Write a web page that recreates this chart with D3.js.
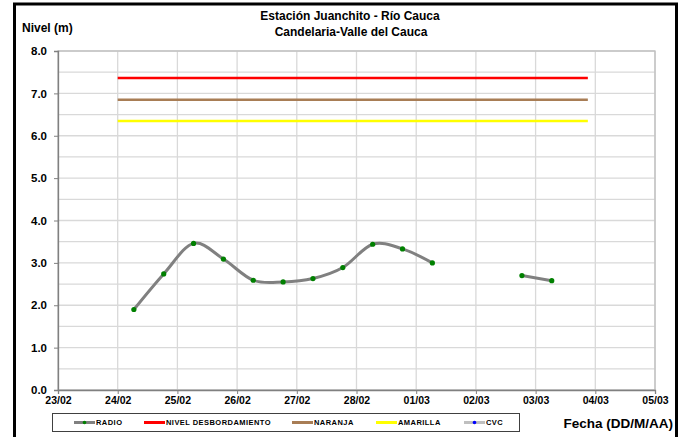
<!DOCTYPE html>
<html>
<head>
<meta charset="utf-8">
<script src="https://cdn.jsdelivr.net/npm/d3@7"></script>
<style>
  body { margin: 0; background: #fff; }
  svg { display: block; font-family: "Liberation Sans", Arial, sans-serif; }
  .grid line { stroke: #d9d9d9; stroke-width: 1.3; }
  .axis text { font-weight: bold; fill: #000; }
  .axis path, .axis line { stroke: #808080; }
</style>
</head>
<body>
<div id="chart"></div>
<script>
// datos
var radioFechas = [
  '2023-02-24T06:30', '2023-02-24T18:30', '2023-02-25T06:30', '2023-02-25T18:30',
  '2023-02-26T06:30', '2023-02-26T18:30', '2023-02-27T06:30', '2023-02-27T18:30',
  '2023-02-28T06:30', '2023-02-28T18:30', '2023-03-01T06:30', '2023-03-01T18:30',
  '2023-03-02T06:30', '2023-03-02T18:30', '2023-03-03T06:30'
];
var radioNivel = [1.90, 2.74, 3.46, 3.09, 2.59, 2.55, 2.63, 2.89, 3.44, 3.33, 3.00, null, null, 2.70, 2.58];

var umbralInicio = '2023-02-24T00:00';
var umbralFin = '2023-03-03T21:00';
var umbrales = [
  { nombre: 'NIVEL DESBORDAMIENTO', valor: 7.36, color: '#ff0000' },
  { nombre: 'NARANJA', valor: 6.85, color: '#a87d55' },
  { nombre: 'AMARILLA', valor: 6.35, color: '#ffff00' }
];

var yTicks = [0, 1, 2, 3, 4, 5, 6, 7, 8];
var yMinor = [0.5, 1.5, 2.5, 3.5, 4.5, 5.5, 6.5, 7.5];
var xInicio = '2023-02-23T00:00', xFin = '2023-03-05T00:00';

var vWidth = 686,
  vHeight = 437,
  margin = { top: 51, right: 31, bottom: 47, left: 58 },
  width = vWidth - margin.left - margin.right,
  height = vHeight - margin.top - margin.bottom;

var parse = d3.utcParse('%Y-%m-%dT%H:%M');

var svg = d3
  .select('#chart')
  .append('svg')
  .attr('width', vWidth)
  .attr('height', vHeight);

// marco negro
svg.append('rect')
  .attr('x', 14.5)
  .attr('y', 4)
  .attr('width', 662)
  .attr('height', 440)
  .attr('fill', 'none')
  .attr('stroke', '#000')
  .attr('stroke-width', 3);

var g = svg
  .append('g')
  .attr('transform', 'translate(' + margin.left + ',' + margin.top + ')');

var x = d3.scaleUtc()
  .domain([parse(xInicio), parse(xFin)])
  .range([0, width]);

var y = d3.scaleLinear().domain([0, 8]).range([height, 0]);

// rejilla
var dias = d3.utcDay.range(parse(xInicio), d3.utcDay.offset(parse(xFin), 1));

g.append('g')
  .attr('class', 'grid')
  .selectAll('line.h')
  .data(yTicks.concat(yMinor))
  .enter()
  .append('line')
  .attr('x1', 0)
  .attr('x2', width)
  .attr('y1', function(d) { return y(d); })
  .attr('y2', function(d) { return y(d); });

g.append('g')
  .attr('class', 'grid')
  .selectAll('line.v')
  .data(dias)
  .enter()
  .append('line')
  .attr('x1', function(d) { return x(d); })
  .attr('x2', function(d) { return x(d); })
  .attr('y1', 0)
  .attr('y2', height);

g.append('rect')
  .attr('width', width)
  .attr('height', height)
  .attr('fill', 'none')
  .attr('stroke', '#bfbfbf')
  .attr('stroke-width', 1.3);

// ejes
g.append('g')
  .attr('class', 'axis')
  .attr('transform', 'translate(0,' + height + ')')
  .call(
    d3.axisBottom(x)
      .tickValues(dias)
      .tickFormat(d3.utcFormat('%d/%m'))
      .tickSize(4)
      .tickPadding(3)
  )
  .style('font-size', '10.5px');

g.append('g')
  .attr('class', 'axis')
  .call(
    d3.axisLeft(y)
      .tickValues(yTicks)
      .tickFormat(d3.format('.1f'))
      .tickSize(4)
      .tickPadding(7)
  )
  .style('font-size', '11.5px');

g.selectAll('.axis .domain').attr('stroke', '#808080').attr('stroke-width', 1.3);

// umbrales
g.selectAll('.umbral')
  .data(umbrales)
  .enter()
  .append('line')
  .attr('class', 'umbral')
  .attr('x1', x(parse(umbralInicio)))
  .attr('x2', x(parse(umbralFin)))
  .attr('y1', function(d) { return y(d.valor); })
  .attr('y2', function(d) { return y(d.valor); })
  .attr('stroke', function(d) { return d.color; })
  .attr('stroke-width', 2.5);

// serie RADIO
var radio = radioFechas.map(function(f, i) {
  return { fecha: parse(f), nivel: radioNivel[i] };
});

var linea = d3.line()
  .defined(function(d) { return d.nivel !== null; })
  .x(function(d) { return x(d.fecha); })
  .y(function(d) { return y(d.nivel); })
  .curve(d3.curveCardinal.tension(0));

g.append('path')
  .datum(radio)
  .attr('d', linea)
  .attr('fill', 'none')
  .attr('stroke', '#808080')
  .attr('stroke-width', 3);

g.selectAll('.punto')
  .data(radio.filter(function(d) { return d.nivel !== null; }))
  .enter()
  .append('circle')
  .attr('class', 'punto')
  .attr('cx', function(d) { return x(d.fecha); })
  .attr('cy', function(d) { return y(d.nivel); })
  .attr('r', 2.6)
  .attr('fill', '#008000');

// titulos
svg.append('text')
  .attr('x', 350)
  .attr('y', 20)
  .attr('text-anchor', 'middle')
  .style('font-weight', 'bold')
  .style('font-size', '12px')
  .text('Estación Juanchito - Río Cauca');

svg.append('text')
  .attr('x', 351)
  .attr('y', 36)
  .attr('text-anchor', 'middle')
  .style('font-weight', 'bold')
  .style('font-size', '12px')
  .text('Candelaria-Valle del Cauca');

svg.append('text')
  .attr('x', 22)
  .attr('y', 32)
  .style('font-weight', 'bold')
  .style('font-size', '12px')
  .text('Nivel (m)');

svg.append('text')
  .attr('x', 673)
  .attr('y', 428)
  .attr('text-anchor', 'end')
  .style('font-weight', 'bold')
  .style('font-size', '13.5px')
  .text('Fecha (DD/M/AA)');

// leyenda
var leyenda = [
  { nombre: 'RADIO', color: '#808080', punto: '#008000', x: 74 },
  { nombre: umbrales[0].nombre, color: umbrales[0].color, punto: null, x: 144 },
  { nombre: umbrales[1].nombre, color: umbrales[1].color, punto: null, x: 292 },
  { nombre: umbrales[2].nombre, color: umbrales[2].color, punto: null, x: 376 },
  { nombre: 'CVC', color: '#bfbfbf', punto: '#0000ff', x: 464 }
];

svg.append('rect')
  .attr('x', 52.5)
  .attr('y', 413.5)
  .attr('width', 467)
  .attr('height', 18)
  .attr('fill', '#fff')
  .attr('stroke', '#404040')
  .attr('stroke-width', 1);

var item = svg.selectAll('.ley')
  .data(leyenda)
  .enter()
  .append('g')
  .attr('class', 'ley')
  .attr('transform', function(d) { return 'translate(' + d.x + ',422.5)'; });

item.append('line')
  .attr('x1', 0)
  .attr('x2', 21)
  .attr('stroke', function(d) { return d.color; })
  .attr('stroke-width', 3);

item.filter(function(d) { return d.punto; })
  .append('circle')
  .attr('cx', 10.5)
  .attr('r', 1.8)
  .attr('fill', function(d) { return d.punto; });

item.append('text')
  .attr('x', 22)
  .attr('dy', '0.35em')
  .style('font-weight', 'bold')
  .style('font-size', '7.5px')
  .style('letter-spacing', '0.45px')
  .text(function(d) { return d.nombre; });
</script>
</body>
</html>
